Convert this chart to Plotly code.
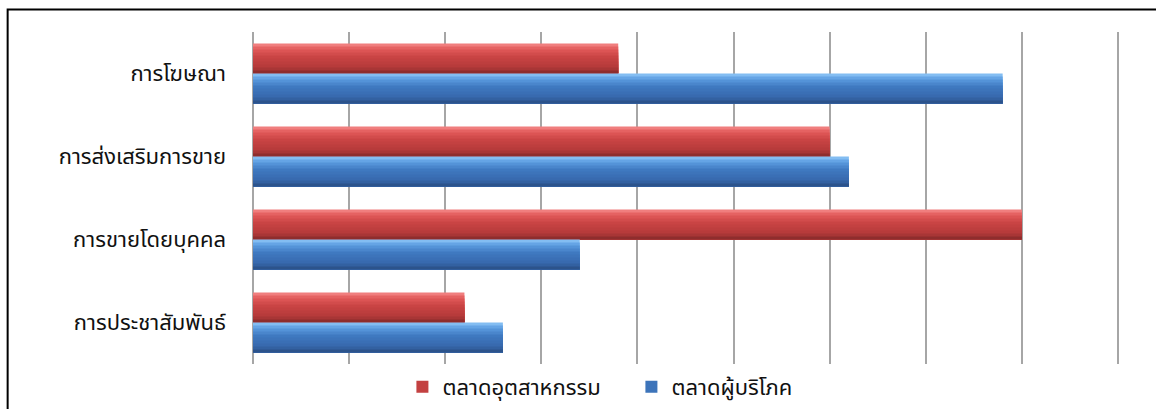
import plotly.graph_objects as go

categories = ["การโฆษณา", "การส่งเสริมการขาย", "การขายโดยบุคคล", "การประชาสัมพันธ์"]
industrial = [19, 30, 40, 11]   # ตลาดอุตสาหกรรม
consumer = [39, 31, 17, 13]     # ตลาดผู้บริโภค
series_names = ["ตลาดอุตสาหกรรม", "ตลาดผู้บริโภค"]
x_ticks = [0, 5, 10, 15, 20, 25, 30, 35, 40, 45]

red_stops = [(0.0, (246, 140, 140)), (0.18, (226, 90, 90)), (0.45, (201, 68, 68)),
             (0.8, (180, 58, 58)), (1.0, (130, 40, 40))]
blue_stops = [(0.0, (146, 202, 248)), (0.18, (92, 156, 225)), (0.45, (63, 121, 192)),
              (0.8, (55, 104, 172)), (1.0, (40, 76, 128))]


def interp(stops, t):
    for (t0, c0), (t1, c1) in zip(stops, stops[1:]):
        if t0 <= t <= t1:
            f = (t - t0) / (t1 - t0) if t1 > t0 else 0
            return "rgb(%d,%d,%d)" % tuple(round(a + (b - a) * f) for a, b in zip(c0, c1))
    return "rgb(%d,%d,%d)" % stops[-1][1]


fig = go.Figure()
bar_w = 0.36
n_bands = 10
font_family = "Tahoma, 'Noto Sans Thai', 'Noto Sans', 'DejaVu Sans', sans-serif"

for vals, name, stops, start in [(industrial, series_names[0], red_stops, -bar_w),
                                 (consumer, series_names[1], blue_stops, 0.0)]:
    bw = bar_w / n_bands
    for i in range(n_bands):
        t = (i + 0.5) / n_bands
        col = interp(stops, t)
        fig.add_trace(go.Bar(
            y=categories, x=vals, orientation="h",
            width=bar_w - i * bw, offset=start + i * bw,
            marker=dict(color=col, line=dict(width=0)),
            name=name, legendgroup=name,
            showlegend=(i == n_bands // 2),
            hoverinfo="x+name",
        ))

L, R, T, B = 252.5, 38, 32, 45
pw = 1156 - L - R
ph = 409 - T - B

fig.update_layout(
    width=1156, height=409,
    barmode="overlay",
    paper_bgcolor="white", plot_bgcolor="white",
    margin=dict(l=L, r=R, t=T, b=B, autoexpand=False),
    font=dict(family=font_family, size=22, color="#111111"),
    xaxis=dict(range=[0, 45], tickvals=x_ticks, showticklabels=False,
               showgrid=True, gridcolor="#a6a6a6", gridwidth=2,
               zeroline=False, showline=False, fixedrange=True),
    yaxis=dict(categoryorder="array", categoryarray=categories, autorange="reversed",
               showgrid=False, zeroline=False, showline=False, ticks="",
               ticklabelstandoff=26, tickfont=dict(size=22, color="#111111")),
    legend=dict(orientation="h", x=(402 - L) / pw, xanchor="left",
                y=-(366 - (T + ph)) / ph, yanchor="top",
                font=dict(size=22, color="#111111"), itemwidth=30,
                entrywidth=184,
                traceorder="normal", bgcolor="rgba(0,0,0,0)"),
    shapes=[
        dict(type="line", xref="paper", yref="paper", x0=0, x1=0, y0=0, y1=1,
             line=dict(color="#a6a6a6", width=2), layer="below"),
        dict(type="line", xref="paper", yref="paper", x0=1, x1=1, y0=0, y1=1,
             line=dict(color="#a6a6a6", width=2), layer="below"),
        dict(type="rect", xref="paper", yref="paper",
             x0=(7 - L) / pw, x1=1.2, y0=-0.3, y1=1 + (T - 9.5) / ph,
             line=dict(color="black", width=2), fillcolor="rgba(0,0,0,0)"),
    ],
)

fig.write_html("out.html")
